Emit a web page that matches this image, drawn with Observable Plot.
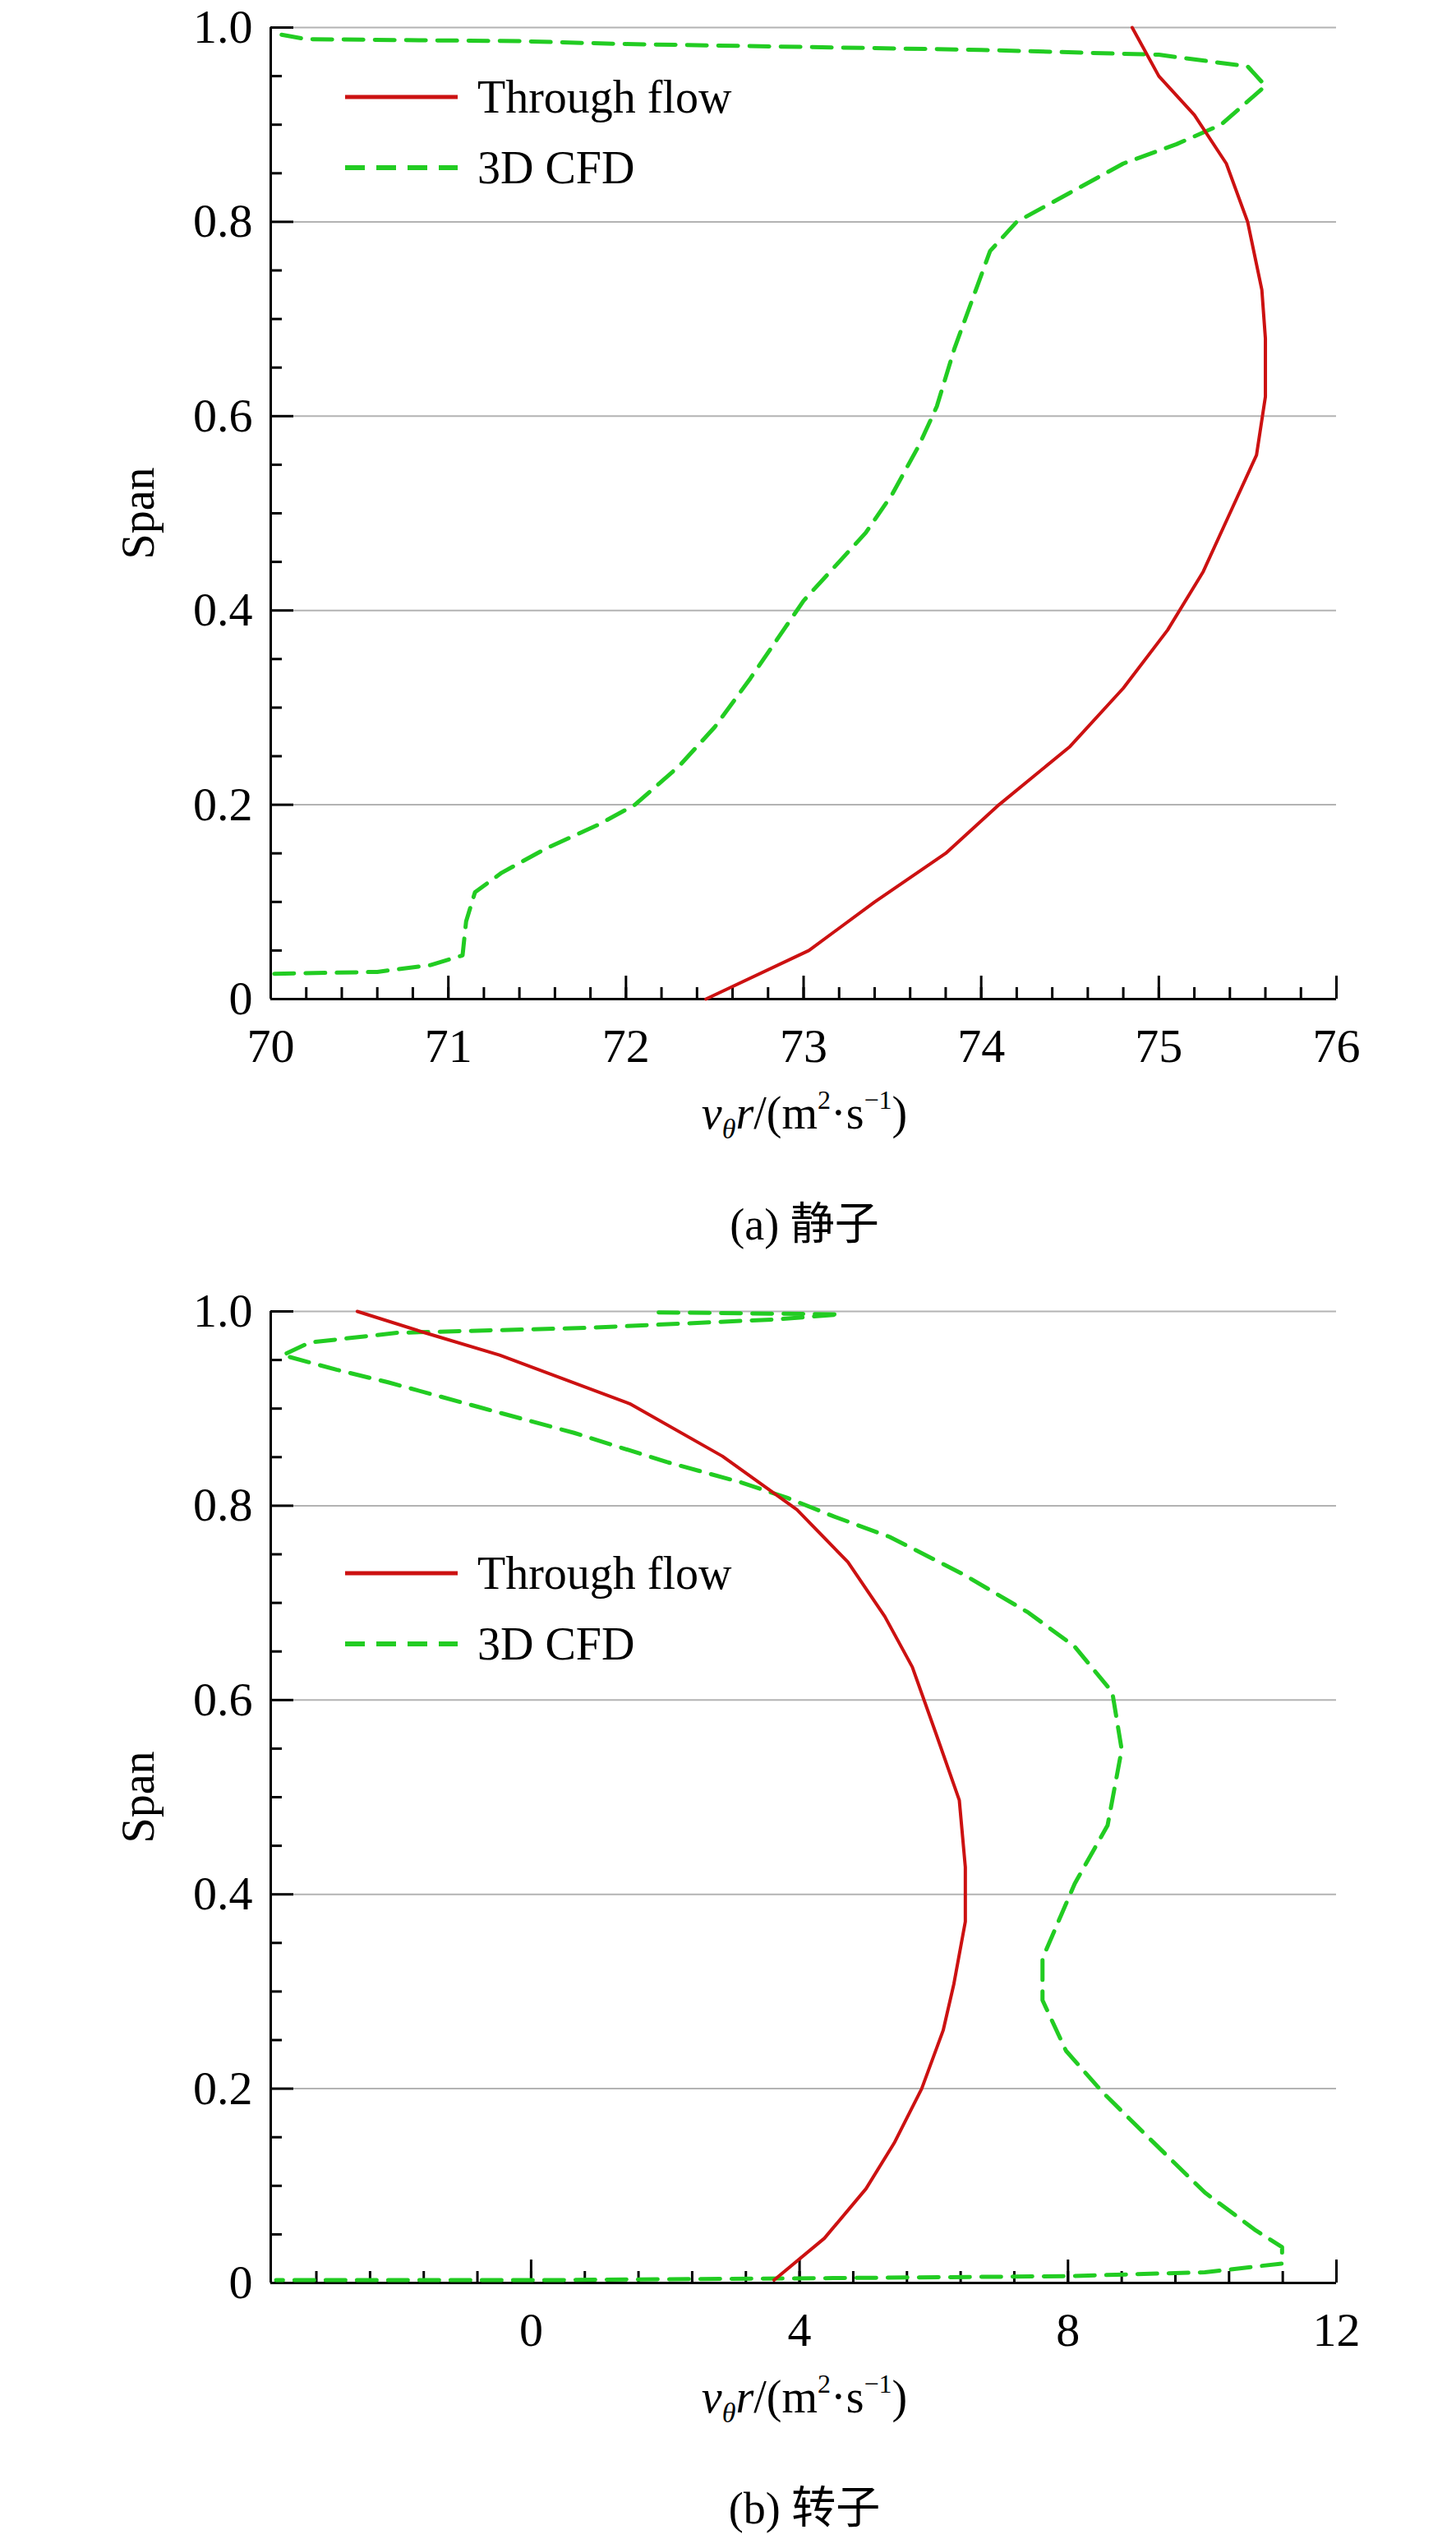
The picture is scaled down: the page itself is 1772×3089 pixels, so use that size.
<!DOCTYPE html>
<html><head><meta charset="utf-8">
<script src="https://cdn.jsdelivr.net/npm/d3@7"></script>
<script src="https://cdn.jsdelivr.net/npm/@observablehq/plot@0.6"></script>
<style>
body{margin:0;background:#fff;font-family:'Liberation Serif',serif;}
#wrap{position:relative;width:1772px;height:3089px;}
.panel{position:absolute;left:0;}
.panel text{font-family:'Liberation Serif',serif;}
.lbl{position:absolute;font-size:56px;white-space:nowrap;transform:translateX(-50%);}
.cap{position:absolute;font-size:54px;white-space:nowrap;transform:translateX(-50%);font-family:'Liberation Serif','Noto Sans CJK SC',serif;}
.leg{position:absolute;font-size:56px;line-height:86px;}
.leg div{display:flex;align-items:center;}
.leg svg{margin-right:24px;}
sup{font-size:32px;vertical-align:24px;} sub{font-size:34px;vertical-align:-12px;}
</style></head><body><div id="wrap"></div>
<script>
const seriesNames = ["Through flow", "3D CFD"];
const statorThrough = [[72.45,0],[73.03,0.05],[73.4,0.1],[73.8,0.15],[74.1,0.2],[74.5,0.26],[74.8,0.32],[75.05,0.38],[75.25,0.44],[75.4,0.5],[75.55,0.56],[75.6,0.62],[75.6,0.68],[75.58,0.73],[75.5,0.8],[75.38,0.86],[75.2,0.91],[75.0,0.95],[74.85,1.0]];
const statorCFD = [[70.02,0.026],[70.6,0.028],[70.9,0.035],[71.08,0.045],[71.1,0.08],[71.15,0.11],[71.3,0.13],[71.55,0.155],[71.85,0.18],[72.05,0.2],[72.3,0.24],[72.5,0.28],[72.7,0.33],[72.85,0.37],[73.0,0.41],[73.2,0.45],[73.35,0.48],[73.5,0.52],[73.65,0.57],[73.75,0.61],[73.85,0.67],[73.95,0.72],[74.05,0.77],[74.2,0.8],[74.5,0.83],[74.8,0.86],[75.1,0.88],[75.35,0.9],[75.6,0.94],[75.5,0.96],[75.0,0.972],[74.0,0.977],[73.0,0.98],[72.0,0.983],[71.4,0.986],[70.2,0.988],[70.05,0.993]];
const rotorThrough = [[-2.59,1.0],[-1.58,0.978],[-0.47,0.955],[1.47,0.905],[2.85,0.851],[3.96,0.796],[4.72,0.742],[5.27,0.686],[5.68,0.634],[6.03,0.566],[6.38,0.497],[6.47,0.428],[6.47,0.372],[6.3,0.308],[6.14,0.26],[5.82,0.2],[5.41,0.144],[4.99,0.097],[4.37,0.046],[3.62,0.003]];
const rotorCFD = [[1.9,0.999],[4.6,0.997],[3.7,0.992],[0.8,0.983],[-2.0,0.978],[-3.3,0.968],[-3.7,0.955],[-2.9,0.94],[-2.13,0.927],[-0.75,0.901],[0.64,0.875],[2.02,0.845],[3.13,0.824],[3.82,0.808],[4.51,0.789],[5.34,0.768],[6.45,0.729],[7.41,0.69],[8.1,0.655],[8.66,0.608],[8.8,0.549],[8.59,0.471],[8.1,0.411],[7.62,0.334],[7.62,0.291],[7.97,0.239],[8.52,0.196],[9.21,0.149],[10.04,0.093],[10.8,0.054],[11.19,0.037],[11.19,0.02],[10.04,0.011],[7.97,0.007],[4.5,0.005],[0.36,0.003],[-3.8,0.003]];
const yMajor = [0,0.2,0.4,0.6,0.8,1.0];
const yMinor = d3.range(0,1.0001,0.05);
const statorXTicks = [70,71,72,73,74,75,76];
const rotorXTicks = [0,4,8,12];
const captions = ["(a) 静子","(b) 转子"];

const wrap = document.getElementById("wrap");
function panel(top, mt, xDomain, xTicks, xMinor, through, cfd, legTop, cap){
  const H = 1400, W = 1772;
  const ml = 329, mr = 146;
  const mb = H - mt - 1182;
  const xs = (xDomain[1]-xDomain[0])/(W-ml-mr);
  const ys = 1/1182;
  const x0 = xDomain[0], y0 = 0;
  const plot = Plot.plot({
    width: W, height: H, marginLeft: ml, marginRight: mr, marginTop: mt, marginBottom: mb,
    x: {domain: xDomain, axis: null},
    y: {domain: [0,1], axis: null},
    style: {fontFamily: "'Liberation Serif', serif", fontSize: "58px", overflow: "visible"},
    marks: [
      Plot.ruleY(yMajor.filter(d=>d>0), {x1: xDomain[0], x2: xDomain[1], stroke: "#b3b3b3", strokeWidth: 2}),
      Plot.ruleY(yMinor, {x1: x0, x2: d => x0 + (yMajor.some(m=>Math.abs(m-d)<1e-6) ? 28 : 14)*xs, stroke: "#000", strokeWidth: 3}),
      Plot.ruleX(xMinor, {y1: y0, y2: 14*ys, stroke: "#000", strokeWidth: 3}),
      Plot.ruleX(xTicks, {y1: y0, y2: 28*ys, stroke: "#000", strokeWidth: 3}),
      Plot.ruleX([xDomain[0]], {y1: 0, y2: 1, stroke: "#000", strokeWidth: 3}),
      Plot.ruleY([0], {x1: xDomain[0], x2: xDomain[1], stroke: "#000", strokeWidth: 3}),
      Plot.line(cfd, {x: d=>d[0], y: d=>d[1], stroke: "#22cc22", strokeWidth: 5, strokeDasharray: "24,14"}),
      Plot.line(through, {x: d=>d[0], y: d=>d[1], stroke: "#cc1111", strokeWidth: 4}),
      Plot.text(yMajor, {x: x0, y: d=>d, text: d => d===0 ? "0" : d.toFixed(1), textAnchor: "end", dx: -22, fontSize: 58}),
      Plot.text(xTicks, {x: d=>d, y: 0, text: d=>String(d), dy: 58, fontSize: 58}),
      Plot.text(["Span"], {x: x0, y: 0.5, text: d=>d, rotate: -90, dx: -160, fontSize: 56})
    ]
  });
  plot.classList.add("panel");
  plot.style.top = top + "px";
  wrap.appendChild(plot);
  const xl = document.createElement("div");
  xl.className = "lbl"; xl.style.left = "979px"; xl.style.top = (top + mt + 1182 + 105) + "px";
  xl.innerHTML = '<i>v</i><sub><i>θ</i></sub><i>r</i>/(m<sup>2</sup>·s<sup>−1</sup>)';
  wrap.appendChild(xl);
  const c = document.createElement("div");
  c.className = "cap"; c.style.left = "979px"; c.style.top = (top + mt + 1182 + 230) + "px";
  c.textContent = cap; wrap.appendChild(c);
  const lg = document.createElement("div");
  lg.className = "leg"; lg.style.left = "420px"; lg.style.top = legTop + "px";
  lg.innerHTML = `<div><svg width="137" height="10"><line x1="0" y1="5" x2="137" y2="5" stroke="#cc1111" stroke-width="5"/></svg>${seriesNames[0]}</div>
  <div><svg width="137" height="10"><line x1="0" y1="5" x2="137" y2="5" stroke="#22cc22" stroke-width="6" stroke-dasharray="24,14"/></svg>${seriesNames[1]}</div>`;
  wrap.appendChild(lg);
}
panel(0, 33, [70,76], statorXTicks, d3.range(70,76.0001,0.2).map(d=>Math.round(d*1000)/1000), statorThrough, statorCFD, 75, captions[0]);
panel(1540, 55, [-3.88,12], rotorXTicks, d3.range(-3.2,12.0001,0.8).map(d=>Math.round(d*1000)/1000), rotorThrough, rotorCFD, 1871, captions[1]);
</script></body></html>
